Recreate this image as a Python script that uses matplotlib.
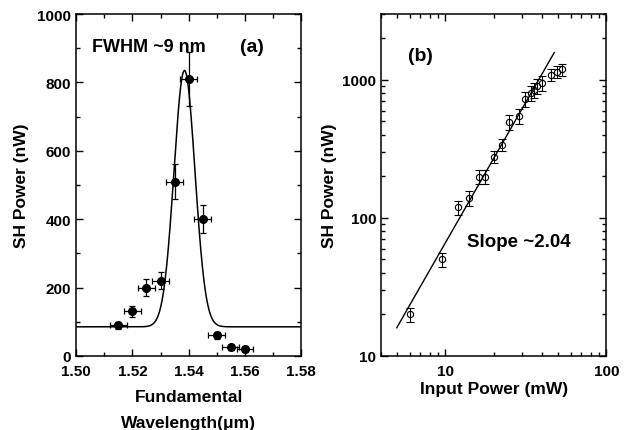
import numpy as np
import matplotlib.pyplot as plt
from matplotlib.ticker import MultipleLocator, LogLocator, FixedLocator, NullFormatter, FixedFormatter

plt.rcParams['font.family'] = ['Liberation Sans', 'DejaVu Sans']
plt.rcParams['font.weight'] = 'bold'

# (a) SH power vs fundamental wavelength
wl = [1.515, 1.520, 1.525, 1.530, 1.535, 1.540, 1.545, 1.550, 1.555, 1.560]
sh_a = [90, 130, 200, 220, 510, 810, 400, 60, 25, 20]
sh_a_err = [10, 15, 25, 25, 50, 80, 40, 10, 8, 10]
wl_err = [0.003] * len(wl)

# gaussian fit parameters (baseline, peak, centre, FWHM)
fit_base = 85
fit_peak = 835
fit_center = 1.5385
fit_fwhm = 0.0088

# (b) SH power vs input power (log-log)
pin = [6.0, 9.5, 12.0, 14.0, 16.1, 17.6, 20.1, 22.4, 25.0, 28.7, 31.2, 34.2, 35.6, 37.3, 39.8, 45.2, 49.1, 52.7]
sh_b = [20, 50, 119, 139, 199, 199, 278, 338, 494, 546, 725, 800, 846, 905, 946, 1087, 1143, 1195]
sh_b_rel_err = [0.12, 0.12, 0.12, 0.12, 0.12, 0.12, 0.1, 0.1, 0.12, 0.12, 0.12, 0.12, 0.12, 0.12, 0.12, 0.1, 0.1, 0.1]
slope = 2.04
line_x = [5.0, 47.5]
line_coef = 0.6

fig = plt.figure(figsize=(6.29, 4.31), dpi=100)
ax1 = fig.add_axes([0.121, 0.172, 0.358, 0.793])
ax2 = fig.add_axes([0.606, 0.172, 0.358, 0.793])

for ax in (ax1, ax2):
    for s in ax.spines.values():
        s.set_linewidth(1.1)
    ax.tick_params(which='both', direction='in', top=True, right=True, width=1.0, labelsize=11)
    ax.tick_params(which='major', length=5)
    ax.tick_params(which='minor', length=3)
    ax.tick_params(axis='x', which='major', pad=6)

# panel (a)
xf = np.linspace(1.50, 1.58, 800)
sig = fit_fwhm / 2.3548
yf = fit_base + (fit_peak - fit_base) * np.exp(-0.5 * ((xf - fit_center) / sig) ** 2)
ax1.plot(xf, yf, color='black', lw=1.1)
ax1.errorbar(wl, sh_a, yerr=sh_a_err, xerr=wl_err, fmt='o', color='black', ms=5.5,
             capsize=2.5, elinewidth=0.9, capthick=0.9)
ax1.set_xlim(1.50, 1.58)
ax1.set_ylim(0, 1000)
ax1.xaxis.set_major_locator(MultipleLocator(0.02))
ax1.xaxis.set_minor_locator(MultipleLocator(0.01))
ax1.yaxis.set_major_locator(MultipleLocator(200))
ax1.yaxis.set_minor_locator(MultipleLocator(100))
ax1.set_xticks([1.50, 1.52, 1.54, 1.56, 1.58])
ax1.set_xticklabels(['1.50', '1.52', '1.54', '1.56', '1.58'])
ax1.set_ylabel('SH Power (nW)', fontsize=12.5, fontweight='bold', labelpad=6)
ax1.set_xlabel('Fundamental\nWavelength(\u03bcm)', fontsize=12.5, fontweight='bold',
               linespacing=1.85, labelpad=8)
ax1.text(0.07, 0.905, 'FWHM ~9 nm', transform=ax1.transAxes, fontsize=13, fontweight='bold',
         va='center', ha='left')
ax1.text(0.73, 0.905, '(a)', transform=ax1.transAxes, fontsize=14, fontweight='bold',
         va='center', ha='left')

# panel (b)
lx = np.array(line_x)
ax2.plot(lx, line_coef * lx ** slope, color='black', lw=1.0)
yerr_b = np.array(sh_b) * np.array(sh_b_rel_err)
ax2.errorbar(pin, sh_b, yerr=yerr_b, fmt='o', mfc='none', mec='black', color='black',
             ms=4.5, mew=0.8, capsize=3, elinewidth=0.8, capthick=0.8)
ax2.set_xscale('log')
ax2.set_yscale('log')
ax2.set_xlim(4, 100)
ax2.set_ylim(10, 3000)
ax2.xaxis.set_major_locator(FixedLocator([10, 100]))
ax2.xaxis.set_major_formatter(FixedFormatter(['10', '100']))
ax2.xaxis.set_minor_locator(LogLocator(base=10, subs=np.arange(2, 10)))
ax2.xaxis.set_minor_formatter(NullFormatter())
ax2.yaxis.set_major_locator(FixedLocator([10, 100, 1000]))
ax2.yaxis.set_major_formatter(FixedFormatter(['10', '100', '1000']))
ax2.yaxis.set_minor_locator(LogLocator(base=10, subs=np.arange(2, 10)))
ax2.yaxis.set_minor_formatter(NullFormatter())
ax2.set_ylabel('SH Power (nW)', fontsize=12.5, fontweight='bold', labelpad=4)
ax2.set_xlabel('Input Power (mW)', fontsize=12.5, fontweight='bold', labelpad=2)
ax2.text(0.12, 0.88, '(b)', transform=ax2.transAxes, fontsize=14, fontweight='bold',
         va='center', ha='left')
ax2.text(0.38, 0.335, 'Slope ~2.04', transform=ax2.transAxes, fontsize=13.5, fontweight='bold',
         va='center', ha='left')

fig.savefig('out.png', dpi=100)
